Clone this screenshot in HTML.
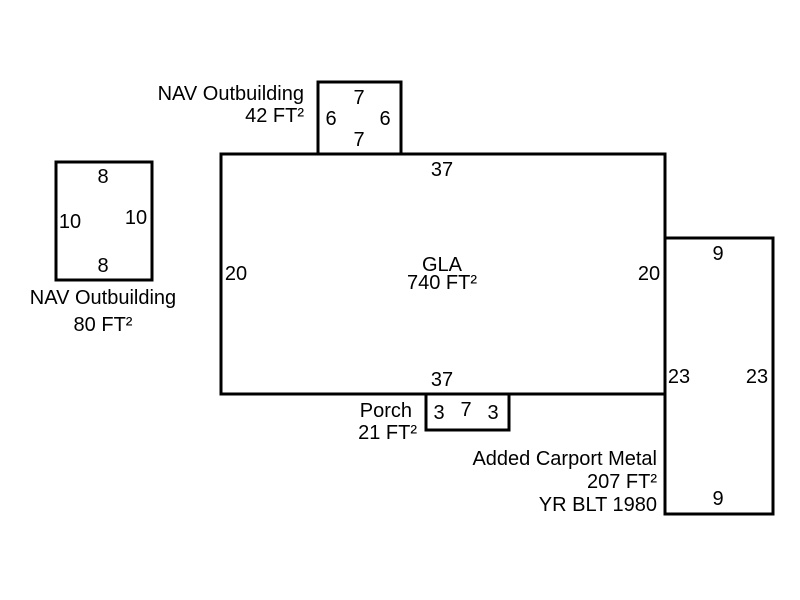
<!DOCTYPE html>
<html><head><style>body{margin:0;background:#fff}svg{display:block}text{font-family:"Liberation Sans",Arial,sans-serif;font-size:20px;fill:#000}</style></head>
<body>
<svg width="800" height="600" xmlns="http://www.w3.org/2000/svg">
<g fill="none" stroke="#000" stroke-width="3">
<rect x="56" y="162" width="96" height="118"/>
<rect x="318" y="82" width="83" height="72"/>
<rect x="221" y="154" width="444" height="240"/>
<rect x="665" y="238" width="108" height="276"/>
<rect x="426" y="394" width="83" height="36"/>
</g>
<g text-anchor="middle">
<text x="103" y="183">8</text>
<text x="103" y="272">8</text>
<text x="70" y="228">10</text>
<text x="136" y="224">10</text>
<text x="103" y="304">NAV Outbuilding</text>
<text x="103" y="331">80 FT²</text>
<text x="359" y="104">7</text>
<text x="359" y="146">7</text>
<text x="331" y="125">6</text>
<text x="385" y="125">6</text>
<text x="442" y="176">37</text>
<text x="442" y="386">37</text>
<text x="236" y="280">20</text>
<text x="649" y="280">20</text>
<text x="442" y="271">GLA</text>
<text x="442" y="289">740 FT²</text>
<text x="718" y="260">9</text>
<text x="718" y="505">9</text>
<text x="679" y="383">23</text>
<text x="757" y="383">23</text>
<text x="439" y="419">3</text>
<text x="466" y="416">7</text>
<text x="493" y="419">3</text>
</g>
<g text-anchor="end">
<text x="304" y="100">NAV Outbuilding</text>
<text x="304" y="122">42 FT²</text>
<text x="412" y="417">Porch</text>
<text x="417" y="439">21 FT²</text>
<text x="657" y="465">Added Carport Metal</text>
<text x="657" y="488">207 FT²</text>
<text x="657" y="511">YR BLT 1980</text>
</g>
</svg>
</body></html>
